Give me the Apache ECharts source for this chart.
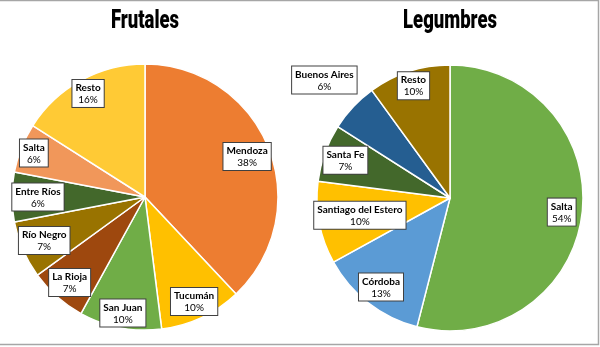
<!DOCTYPE html>
<html>
<head>
<meta charset="utf-8">
<script src="https://cdn.jsdelivr.net/npm/echarts@6/dist/echarts.min.js"></script>
<style>
  html, body { margin: 0; padding: 0; background: #fff; }
  #chart { width: 600px; height: 347px; }
</style>
</head>
<body>
<div id="chart"></div>
<script>
// Producción por provincia (%)
const frutalesNames  = ['Mendoza', 'Tucumán', 'San Juan', 'La Rioja', 'Río Negro', 'Entre Ríos', 'Salta', 'Resto'];
const frutalesValues = [38, 10, 10, 7, 7, 6, 6, 16];
const frutalesColors = ['#ED7D31', '#FFC000', '#70AD47', '#9E480E', '#997300', '#43682B', '#F1975A', '#FFCA35'];

const legumbresNames  = ['Salta', 'Córdoba', 'Santiago del Estero', 'Santa Fe', 'Buenos Aires', 'Resto'];
const legumbresValues = [54, 13, 10, 7, 6, 10];
const legumbresColors = ['#70AD47', '#5B9BD5', '#FFC000', '#43682B', '#255E91', '#997300'];

const chartTitles = ['Frutales', 'Legumbres'];

// Distance of each label box from the pie centre, as a fraction of the radius
const frutalesLabelRadius  = [0.79, 0.83, 0.85, 0.82, 0.79, 0.77, 0.86, 0.85];
const legumbresLabelRadius = [0.81, 0.81, 0.66, 0.80, 1.24, 0.85];

const R = 133;
const frutalesCenter  = [145, 197];
const legumbresCenter = [450, 198];

const chart = echarts.init(document.getElementById('chart'), null, { renderer: 'canvas' });

function buildData(names, values, colors) {
  return names.map((n, i) => ({ name: n, value: values[i], itemStyle: { color: colors[i] } }));
}

// Inside labels sit at half the radius; push them out along the slice bisector
function radialLayout(center, ratios) {
  return function (params) {
    const r = params.labelRect;
    const lx = r.x + r.width / 2;
    const ly = r.y + r.height / 2;
    const k = ratios[params.dataIndex] / 0.5 - 1;
    return { dx: (lx - center[0]) * k, dy: (ly - center[1]) * k };
  };
}

const labelStyle = {
  show: true,
  position: 'inside',
  formatter: '{n|{b}}\n{p|{c}%}',
  backgroundColor: '#ffffff',
  borderColor: '#404040',
  borderWidth: 1,
  padding: [2, 3, 1, 3],
  rich: {
    n: { fontFamily: 'Lato', fontWeight: 'bold', fontSize: 10, color: '#000', lineHeight: 12, align: 'center' },
    p: { fontFamily: 'Lato', fontSize: 10, color: '#000', lineHeight: 12, align: 'center' }
  }
};

function pieSeries(center, names, values, colors, ratios) {
  return {
    type: 'pie',
    center: center,
    radius: [0, R],
    startAngle: 90,
    clockwise: true,
    animation: false,
    silent: true,
    itemStyle: { borderColor: '#ffffff', borderWidth: 1.5 },
    label: labelStyle,
    labelLine: { show: false },
    labelLayout: radialLayout(center, ratios),
    emphasis: { disabled: true },
    data: buildData(names, values, colors)
  };
}

// Condensed heavy titles: a black-weight face squeezed horizontally
function titleText(text, cx) {
  return {
    type: 'text',
    silent: true,
    x: cx,
    y: 22,
    scaleX: 0.74,
    style: {
      text: text,
      fontFamily: 'Roboto',
      fontWeight: 900,
      fontSize: 25,
      fill: '#000',
      align: 'center',
      verticalAlign: 'middle'
    }
  };
}

chart.setOption({
  backgroundColor: '#ffffff',
  graphic: [
    { type: 'polyline', silent: true, shape: { points: [[0, 0.5], [598.5, 0.5], [598.5, 344.5], [0, 344.5]] },
      style: { stroke: '#a6a6a6', lineWidth: 1.5, fill: null } },
    titleText(chartTitles[0], frutalesCenter[0]),
    titleText(chartTitles[1], legumbresCenter[0])
  ],
  series: [
    pieSeries(frutalesCenter, frutalesNames, frutalesValues, frutalesColors, frutalesLabelRadius),
    pieSeries(legumbresCenter, legumbresNames, legumbresValues, legumbresColors, legumbresLabelRadius)
  ]
});
</script>
</body>
</html>
